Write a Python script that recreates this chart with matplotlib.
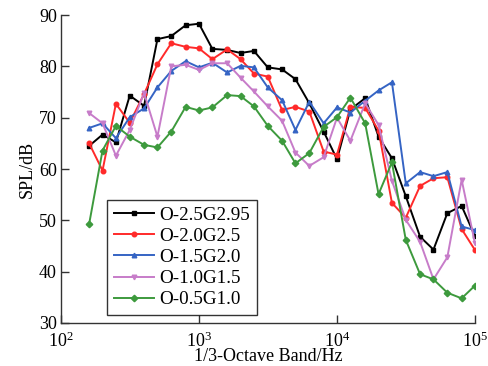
import numpy as np
import matplotlib
matplotlib.use("Agg")
import matplotlib.pyplot as plt

plt.rcParams['font.family'] = ['Liberation Serif', 'DejaVu Serif']
plt.rcParams['mathtext.fontset'] = 'stix'

# 1/3-octave band centre frequencies (Hz)
freq = [160, 200, 250, 315, 400, 500, 630, 800, 1000, 1250, 1600, 2000,
        2500, 3150, 4000, 5000, 6300, 8000, 10000, 12500, 16000, 20000,
        25000, 31500, 40000, 50000, 63000, 80000, 100000]

# SPL (dB) for each configuration
spl_25 = [64.5, 66.7, 65.2, 74.3, 72.3, 85.3, 85.9, 88.0, 88.3, 83.4, 83.2, 82.6,
          83.0, 79.8, 79.4, 77.5, 72.8, 67.3, 61.9, 71.6, 73.8, 66.3,
          62.1, 54.7, 46.8, 44.3, 51.4, 52.8, 46.9]
spl_20 = [65.0, 59.7, 72.7, 69.0, 74.6, 80.4, 84.5, 83.8, 83.5, 81.4, 83.3, 81.4,
          78.6, 78.0, 71.5, 72.1, 71.2, 63.4, 62.8, 72.1, 71.9, 67.5,
          53.4, 50.5, 56.7, 58.2, 58.4, 48.3, 44.2]
spl_15 = [68.0, 68.9, 66.0, 70.1, 71.8, 75.9, 79.1, 81.0, 79.8, 80.7, 78.8, 80.1,
          79.8, 75.9, 73.4, 67.6, 73.1, 68.9, 72.0, 71.0, 73.3, 75.3,
          76.9, 57.2, 59.4, 58.6, 59.4, 48.8, 48.1]
spl_10 = [70.9, 68.9, 62.6, 67.6, 74.8, 66.3, 80.0, 80.3, 79.3, 80.6, 80.6, 77.8,
          75.1, 72.2, 69.4, 63.2, 60.6, 62.3, 70.0, 65.5, 72.8, 68.6,
          57.7, 50.1, 45.8, 38.5, 42.8, 57.9, 45.5]
spl_05 = [49.3, 63.6, 68.4, 66.3, 64.7, 64.2, 67.3, 72.1, 71.4, 72.0, 74.4, 74.2,
          72.2, 68.4, 65.5, 61.1, 63.1, 68.2, 70.1, 73.9, 68.9, 55.1,
          61.3, 46.2, 39.5, 38.5, 35.9, 34.8, 37.3]

series = [
    ("O-2.5G2.95", spl_25, "black", "s"),
    ("O-2.0G2.5", spl_20, "#ff2a2a", "o"),
    ("O-1.5G2.0", spl_15, "#3564c4", "^"),
    ("O-1.0G1.5", spl_10, "#c77cc9", "v"),
    ("O-0.5G1.0", spl_05, "#3d9a3d", "D"),
]

fig = plt.figure(figsize=(4.89, 3.66), dpi=100)
ax = fig.add_axes([0.1247, 0.1175, 0.8467, 0.8415])

for name, vals, col, mk in series:
    ax.plot(freq, vals, color=col, marker=mk, markersize=3.3, linewidth=1.4,
            label=name)

ax.set_xscale('log')
ax.set_xlim(100, 100000)
ax.set_ylim(30, 90)
ax.set_yticks([30, 40, 50, 60, 70, 80, 90])
ax.xaxis.set_minor_locator(matplotlib.ticker.NullLocator())

for side in ['top', 'right']:
    ax.spines[side].set_visible(False)
for side in ['left', 'bottom']:
    ax.spines[side].set_color('#333333')
    ax.spines[side].set_linewidth(1.0)

ax.tick_params(direction='in', length=5.5, width=1.0, color='#333333',
               labelsize=13, pad=3)
ax.tick_params(axis='x', pad=6)
ax.set_xlabel('1/3-Octave Band/Hz', fontsize=13, labelpad=-2)
ax.set_ylabel('SPL/dB', fontsize=13, labelpad=2)

leg = ax.legend(loc='lower left', bbox_to_anchor=(0.112, 0.026), fontsize=13.7,
                frameon=True, fancybox=False, edgecolor='black',
                handlelength=2.1, handletextpad=0.3, borderpad=0.35,
                labelspacing=0.2, borderaxespad=0)
leg.get_frame().set_linewidth(1.0)

fig.savefig('out.png', dpi=100)
